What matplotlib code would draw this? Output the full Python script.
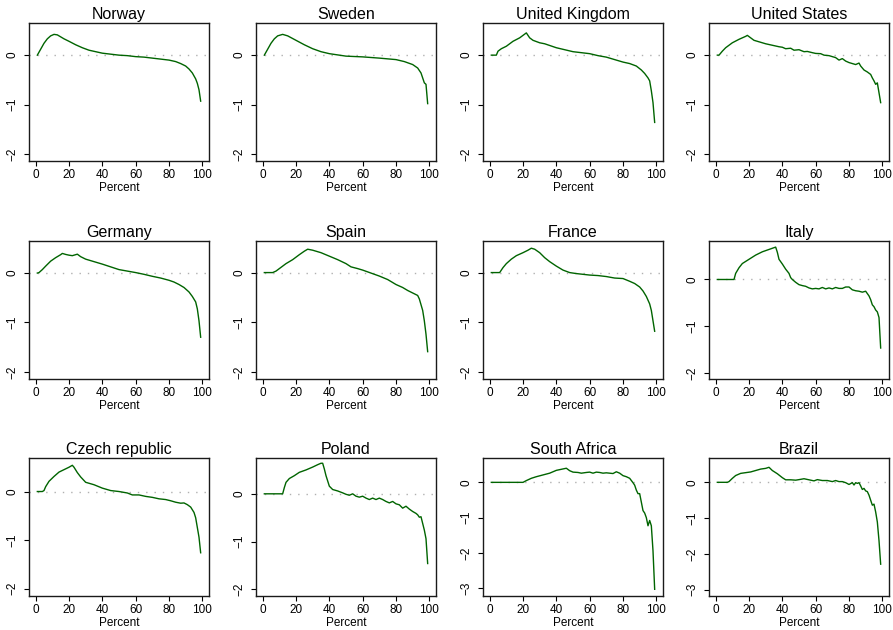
import matplotlib
matplotlib.use("Agg")
import matplotlib.pyplot as plt

plt.rcParams['font.family'] = ['Liberation Sans', 'DejaVu Sans']

countries = ["Norway", "Sweden", "United Kingdom", "United States",
             "Germany", "Spain", "France", "Italy",
             "Czech republic", "Poland", "South Africa", "Brazil"]

norway_x = [1, 3, 5, 7, 9, 11, 13, 15, 17, 20, 24, 28, 32, 36, 40, 45, 50, 55, 60, 65, 70, 75, 80, 84, 87, 90, 92, 94, 96, 97, 98, 99]
norway_y = [0.0, 0.12, 0.24, 0.33, 0.39, 0.42, 0.41, 0.37, 0.33, 0.28, 0.21, 0.15, 0.10, 0.07, 0.04, 0.02, 0.0, -0.01, -0.03, -0.04, -0.06, -0.08, -0.10, -0.13, -0.17, -0.22, -0.28, -0.36, -0.48, -0.57, -0.70, -0.93]

sweden_x = [1, 3, 5, 7, 9, 12, 15, 20, 25, 30, 35, 40, 50, 60, 70, 80, 85, 90, 93, 95, 96, 97, 98, 99]
sweden_y = [0.0, 0.12, 0.24, 0.33, 0.39, 0.42, 0.39, 0.30, 0.21, 0.13, 0.07, 0.03, -0.02, -0.035, -0.06, -0.09, -0.13, -0.19, -0.26, -0.36, -0.46, -0.56, -0.59, -0.98]

uk_x = [1, 4, 5, 7, 10, 14, 18, 22, 24, 26, 30, 33, 40, 50, 60, 65, 70, 75, 80, 84, 88, 91, 93, 95, 96, 97, 98, 99]
uk_y = [0.0, 0.0, 0.08, 0.13, 0.18, 0.28, 0.35, 0.45, 0.35, 0.30, 0.25, 0.23, 0.15, 0.07, 0.03, -0.01, -0.04, -0.09, -0.14, -0.17, -0.22, -0.30, -0.37, -0.46, -0.52, -0.72, -0.96, -1.36]

us_x = [1, 2, 4, 6, 10, 14, 18, 19, 21, 23, 26, 30, 34, 38, 40, 42, 45, 47, 50, 53, 55, 58, 60, 63, 65, 68, 70, 72, 74, 76, 78, 80, 82, 84, 86, 87, 89, 91, 93, 94, 95, 96, 97, 98, 99]
us_y = [0.0, 0.0, 0.08, 0.15, 0.25, 0.32, 0.38, 0.40, 0.35, 0.30, 0.27, 0.23, 0.20, 0.17, 0.16, 0.13, 0.14, 0.10, 0.11, 0.07, 0.075, 0.05, 0.035, 0.03, 0.0, -0.01, -0.03, -0.05, -0.10, -0.07, -0.12, -0.15, -0.17, -0.19, -0.16, -0.22, -0.30, -0.34, -0.39, -0.46, -0.52, -0.59, -0.56, -0.76, -0.96]

germany_x = [1, 2, 4, 6, 9, 12, 15, 16, 18, 20, 22, 24, 25, 27, 30, 35, 40, 45, 50, 55, 60, 65, 70, 75, 80, 83, 86, 89, 92, 94, 96, 97, 98, 99]
germany_y = [-0.01, 0.0, 0.06, 0.13, 0.23, 0.30, 0.36, 0.385, 0.365, 0.35, 0.34, 0.36, 0.37, 0.32, 0.27, 0.22, 0.17, 0.115, 0.06, 0.03, 0.0, -0.035, -0.075, -0.11, -0.155, -0.19, -0.24, -0.30, -0.39, -0.48, -0.59, -0.73, -0.97, -1.30]

spain_x = [1, 6, 8, 10, 14, 18, 22, 25, 27, 30, 35, 40, 45, 50, 53, 57, 60, 65, 70, 75, 80, 84, 87, 90, 93, 94, 96, 97, 98, 99]
spain_y = [0.0, 0.0, 0.03, 0.08, 0.18, 0.26, 0.36, 0.43, 0.47, 0.45, 0.40, 0.33, 0.26, 0.18, 0.115, 0.08, 0.05, -0.01, -0.07, -0.14, -0.24, -0.30, -0.36, -0.41, -0.46, -0.53, -0.76, -0.97, -1.24, -1.59]

france_x = [1, 6, 8, 10, 13, 16, 20, 23, 25, 27, 30, 33, 36, 40, 44, 48, 52, 56, 60, 65, 70, 75, 80, 84, 87, 90, 92, 94, 96, 97, 98, 99]
france_y = [0.0, 0.0, 0.10, 0.18, 0.27, 0.34, 0.40, 0.45, 0.49, 0.47, 0.40, 0.30, 0.22, 0.13, 0.05, 0.0, -0.02, -0.035, -0.05, -0.06, -0.08, -0.11, -0.12, -0.175, -0.22, -0.29, -0.37, -0.48, -0.63, -0.76, -0.97, -1.18]

italy_x = [1, 11, 12, 14, 16, 20, 24, 28, 32, 36, 37, 38, 40, 42, 44, 45, 46, 48, 50, 52, 54, 56, 58, 60, 62, 64, 66, 68, 70, 72, 74, 76, 78, 80, 82, 84, 86, 88, 90, 92, 93, 94, 95, 96, 97, 98, 99]
italy_y = [0.0, 0.0, 0.13, 0.25, 0.34, 0.43, 0.52, 0.59, 0.64, 0.69, 0.58, 0.43, 0.33, 0.22, 0.13, 0.04, 0.0, -0.06, -0.11, -0.13, -0.145, -0.18, -0.20, -0.19, -0.20, -0.17, -0.20, -0.18, -0.20, -0.17, -0.19, -0.19, -0.16, -0.16, -0.22, -0.24, -0.25, -0.27, -0.25, -0.35, -0.43, -0.54, -0.58, -0.65, -0.69, -0.81, -1.46]

czech_x = [1, 4, 5, 6, 8, 11, 14, 17, 20, 22, 23, 25, 27, 30, 35, 40, 45, 50, 55, 58, 62, 66, 70, 74, 78, 81, 84, 87, 89, 91, 93, 95, 96, 97, 98, 99]
czech_y = [0.0, 0.0, 0.02, 0.10, 0.21, 0.31, 0.40, 0.45, 0.50, 0.54, 0.50, 0.39, 0.30, 0.19, 0.14, 0.07, 0.02, 0.0, -0.03, -0.07, -0.07, -0.10, -0.12, -0.15, -0.165, -0.19, -0.22, -0.24, -0.235, -0.27, -0.32, -0.43, -0.54, -0.74, -0.94, -1.26]

poland_x = [1, 12, 13, 14, 16, 19, 22, 26, 30, 33, 35, 36, 37, 38, 40, 42, 45, 48, 50, 52, 54, 56, 58, 60, 62, 64, 66, 68, 70, 72, 74, 76, 78, 80, 82, 84, 86, 88, 90, 92, 93, 94, 95, 96, 97, 98, 99]
poland_y = [0.0, 0.0, 0.13, 0.24, 0.32, 0.38, 0.45, 0.50, 0.56, 0.61, 0.64, 0.64, 0.52, 0.38, 0.16, 0.09, 0.06, 0.02, -0.01, -0.03, 0.0, -0.05, -0.07, -0.05, -0.09, -0.12, -0.09, -0.12, -0.09, -0.12, -0.16, -0.19, -0.16, -0.21, -0.23, -0.30, -0.26, -0.32, -0.37, -0.41, -0.44, -0.49, -0.48, -0.62, -0.76, -0.94, -1.46]

safrica_x = [1, 20, 22, 25, 28, 32, 36, 40, 43, 46, 48, 50, 53, 55, 58, 60, 62, 64, 66, 68, 70, 72, 74, 76, 78, 80, 82, 84, 86, 87, 88, 89, 90, 91, 92, 93, 94, 95, 96, 97, 98, 99]
safrica_y = [0.0, 0.0, 0.05, 0.115, 0.16, 0.21, 0.26, 0.34, 0.37, 0.40, 0.33, 0.29, 0.28, 0.26, 0.28, 0.29, 0.26, 0.29, 0.28, 0.26, 0.27, 0.26, 0.25, 0.30, 0.26, 0.19, 0.16, 0.115, -0.01, -0.08, -0.22, -0.32, -0.32, -0.56, -0.80, -0.87, -1.00, -1.23, -1.08, -1.23, -1.94, -3.03]

brazil_x = [1, 7, 8, 10, 12, 15, 18, 21, 24, 27, 30, 32, 34, 37, 40, 42, 45, 48, 50, 53, 56, 59, 61, 64, 67, 70, 72, 74, 76, 78, 80, 82, 83, 84, 85, 86, 87, 88, 89, 90, 91, 92, 93, 94, 95, 96, 97, 98, 99]
brazil_y = [0.0, 0.0, 0.02, 0.11, 0.19, 0.25, 0.27, 0.29, 0.33, 0.37, 0.39, 0.42, 0.33, 0.24, 0.13, 0.07, 0.07, 0.06, 0.075, 0.10, 0.07, 0.04, 0.075, 0.05, 0.05, 0.02, 0.05, 0.02, 0.02, -0.01, -0.06, -0.01, -0.075, -0.01, -0.03, -0.01, -0.10, -0.20, -0.17, -0.24, -0.26, -0.36, -0.50, -0.64, -0.61, -0.83, -1.11, -1.63, -2.29]

series_x = [norway_x, sweden_x, uk_x, us_x, germany_x, spain_x, france_x, italy_x,
            czech_x, poland_x, safrica_x, brazil_x]
series_y = [norway_y, sweden_y, uk_y, us_y, germany_y, spain_y, france_y, italy_y,
            czech_y, poland_y, safrica_y, brazil_y]

y_lower = [-2.14, -2.14, -2.14, -2.14, -2.14, -2.14, -2.14, -2.12, -2.15, -2.14, -3.22, -3.18]
y_upper = [0.65, 0.65, 0.65, 0.65, 0.635, 0.635, 0.635, 0.82, 0.69, 0.75, 0.69, 0.68]
y_ticks = [[-2, -1, 0]] * 10 + [[-3, -2, -1, 0]] * 2
x_ticks = [0, 20, 40, 60, 80, 100]

W, H = 893, 630
fig = plt.figure(figsize=(W / 100, H / 100), dpi=100)

col_left = [29, 256, 483, 709]
row_top = [23, 241, 458]
box_w, box_h = 180, 138

for i, name in enumerate(countries):
    r, c = divmod(i, 4)
    ax = fig.add_axes([col_left[c] / W, 1 - (row_top[r] + box_h) / H, box_w / W, box_h / H])
    ax.axhline(0, color='#b0b0b0', lw=1.0, linestyle=(0, (1, 5)), zorder=1)
    ax.plot(series_x[i], series_y[i], color='#006400', lw=1.0, zorder=2)
    ax.set_xlim(-4, 104)
    ax.set_ylim(y_lower[i], y_upper[i])
    ax.set_xticks(x_ticks)
    ax.set_yticks(y_ticks[i])
    ax.set_yticklabels([f"{t}".replace('-', '\u2212') for t in y_ticks[i]], rotation=90, va='center')
    ax.tick_params(axis='both', direction='out', length=3.5, width=0.8, labelsize=8.5, color='black')
    ax.tick_params(axis='x', pad=2.5)
    ax.tick_params(axis='y', pad=4)
    for s in ax.spines.values():
        s.set_linewidth(1.0)
        s.set_color('#1a1a1a')
    ax.set_xlabel("Percent", fontsize=8.5, labelpad=0.5)
    ax.set_title(name, fontsize=11.5, pad=3)

fig.savefig("out.png", dpi=100)
